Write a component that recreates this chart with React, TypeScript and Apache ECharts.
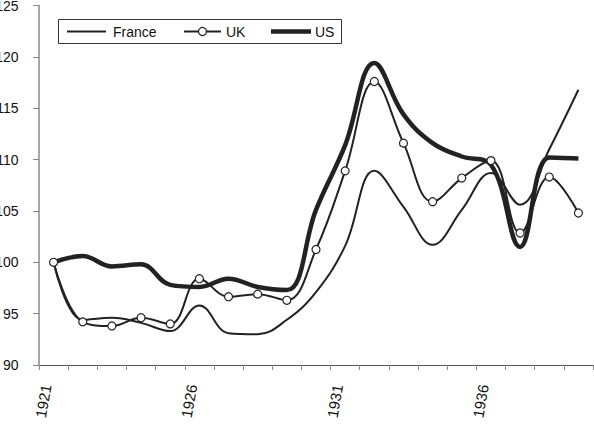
import React, { useEffect, useRef } from "react";
import * as echarts from "echarts";

const years = ["1921","1922","1923","1924","1925","1926","1927","1928","1929","1930","1931","1932","1933","1934","1935","1936","1937","1938","1939"];
const france = [100.0, 94.4, 94.6, 94.1, 93.3, 95.8, 93.1, 93.0, 94.4, 97.1, 101.6, 108.9, 105.4, 101.7, 105.1, 108.7, 105.6, 111.0, 116.8];
const uk = [100.0, 94.2, 93.8, 94.6, 94.0, 98.4, 96.65, 96.9, 96.3, 101.25, 108.9, 117.6, 111.6, 105.9, 108.2, 109.9, 102.85, 108.3, 104.8];
const us = [100.0, 100.6, 99.6, 99.8, 97.8, 97.6, 98.4, 97.6, 97.3, 105.1, 111.4, 119.4, 114.4, 111.6, 110.3, 109.5, 101.5, 110.2, 110.1];
const seriesNames = ["France", "UK", "US"];

const FONT = "'Liberation Sans', Arial, sans-serif";
const INK = "#222222";
const LW = [2, 2, 4.5];

export default function App() {
  const ref = useRef<HTMLDivElement>(null);
  useEffect(() => {
    if (!ref.current) return;
    const chart = echarts.init(ref.current, null, { renderer: "svg" });
    const ly = 31.5;
    const legendText = (x: number, t: string) => ({
      type: "text",
      x,
      y: ly,
      style: { text: t, font: `14px ${FONT}`, fill: "#111", verticalAlign: "middle", align: "left" },
    });
    chart.setOption({
      animation: false,
      backgroundColor: "#ffffff",
      textStyle: { fontFamily: FONT },
      grid: { left: 39, right: 1, top: 5.5, bottom: 65, containLabel: false, outerBoundsMode: "none" },
      graphic: [
        {
          type: "group",
          z: 100,
          children: [
            { type: "rect", shape: { x: 58.5, y: 19.5, width: 283, height: 24 }, style: { fill: "#fff", stroke: "#333", lineWidth: 1 } },
            { type: "line", shape: { x1: 67, y1: ly, x2: 106, y2: ly }, style: { stroke: INK, lineWidth: LW[0] } },
            legendText(113, seriesNames[0]),
            { type: "line", shape: { x1: 184, y1: ly, x2: 221, y2: ly }, style: { stroke: INK, lineWidth: LW[1] } },
            { type: "circle", shape: { cx: 202.5, cy: ly, r: 4 }, style: { fill: "#fff", stroke: INK, lineWidth: 1.2 } },
            legendText(226, seriesNames[1]),
            { type: "line", shape: { x1: 271, y1: ly, x2: 311, y2: ly }, style: { stroke: INK, lineWidth: LW[2] } },
            legendText(315, seriesNames[2]),
          ],
        },
      ],
      xAxis: {
        type: "category",
        data: years,
        boundaryGap: true,
        axisLine: { lineStyle: { color: "#555", width: 1 } },
        axisTick: { show: true, interval: 0, length: 5, lineStyle: { color: "#888" } },
        axisLabel: {
          interval: 4,
          rotate: 80,
          margin: 21,
          fontSize: 15,
          fontFamily: FONT,
          color: "#111",
          verticalAlign: "bottom",
        },
        splitLine: { show: false },
      },
      yAxis: {
        type: "value",
        min: 90,
        max: 125,
        interval: 5,
        axisLine: { show: true, lineStyle: { color: "#888", width: 1.5 } },
        axisTick: { show: true, length: 6, lineStyle: { color: "#888" } },
        axisLabel: { margin: 20.5, fontSize: 14, fontFamily: FONT, color: "#111" },
        splitLine: { show: false },
      },
      series: [
        {
          name: seriesNames[0],
          type: "line",
          data: france,
          smooth: 0.4,
          showSymbol: false,
          symbol: "none",
          lineStyle: { width: LW[0], color: INK },
          itemStyle: { color: INK },
          z: 2,
        },
        {
          name: seriesNames[1],
          type: "line",
          data: uk,
          smooth: 0.4,
          symbol: "circle",
          symbolSize: 8,
          showSymbol: true,
          lineStyle: { width: LW[1], color: INK },
          itemStyle: { color: "#ffffff", borderColor: INK, borderWidth: 1.2 },
          z: 4,
        },
        {
          name: seriesNames[2],
          type: "line",
          data: us,
          smooth: 0.4,
          showSymbol: false,
          symbol: "none",
          lineStyle: { width: LW[2], color: INK },
          itemStyle: { color: INK },
          z: 3,
        },
      ],
    });
    return () => chart.dispose();
  }, []);
  return (
    <div style={{ position: "absolute", left: 0, top: 0, width: 594, height: 430, background: "#fff", overflow: "hidden" }}>
      <div ref={ref} style={{ width: 594, height: 430 }} />
    </div>
  );
}
